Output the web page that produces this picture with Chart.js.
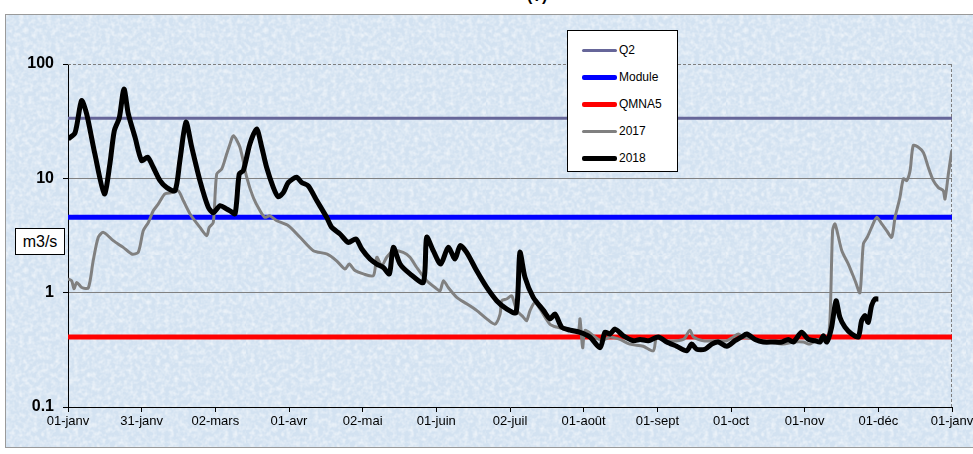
<!DOCTYPE html>
<html>
<head>
<meta charset="utf-8">
<script src="https://cdn.jsdelivr.net/npm/chart.js@4/dist/chart.umd.min.js"></script>
<style>
  html,body{margin:0;padding:0;background:#fff;}
  body{width:973px;height:454px;position:relative;overflow:hidden;font-family:"Liberation Sans",Arial,sans-serif;}
  #frame{position:absolute;left:5px;top:14px;width:975px;height:432px;border:1px solid #9a9a9a;
    background-color:#d3e2f1;
    background-image:url("data:image/svg+xml;utf8,<svg xmlns='http://www.w3.org/2000/svg' width='240' height='240'><filter id='n'><feTurbulence type='fractalNoise' baseFrequency='0.22' numOctaves='2' seed='4'/><feColorMatrix values='0 0 0 0 1  0 0 0 0 1  0 0 0 0 1  1.2 0 0 0 -0.45'/></filter><rect width='100%' height='100%' filter='url(%23n)'/></svg>");}
  #title{position:absolute;left:527px;top:-13px;font-weight:bold;font-size:16px;color:#000;}
  canvas{position:absolute;left:0;top:0;}
  #unit{position:absolute;left:15px;top:228px;width:48px;height:25px;background:#fff;border:1px solid #000;
    font-size:16px;line-height:25px;text-align:center;color:#000;}
  #legend{position:absolute;left:567px;top:30px;width:109px;height:140px;background:#fff;border:1px solid #000;}
  .row{position:absolute;left:0;height:14px;font-size:12px;color:#000;}
  .row span.l{position:absolute;left:14px;width:35px;top:50%;border-radius:2px;}
  .row span.t{position:absolute;left:51px;top:0;line-height:14px;white-space:nowrap;}
</style>
</head>
<body>
<div id="frame"></div>
<div id="title">(?)</div>
<canvas id="c" width="973" height="454"></canvas>
<div id="unit">m3/s</div>
<div id="legend"></div>
<script>
// ---- data ----
const tickLabels = ["01-janv","31-janv","02-mars","01-avr","02-mai","01-juin","02-juil","01-août","01-sept","01-oct","01-nov","01-déc","01-janv"];
const yTicks = [0.1, 1, 10, 100];

const seriesNames = ["Q2","Module","QMNA5","2017","2018"];
const q2Value = 33.5;
const moduleValue = 4.56;
const qmna5Value = 0.41;

const days2017 = [0,1.5,2.5,3.6,5.7,8.4,10.4,12.5,14.6,18.7,22.8,26.3,29,31.1,33.2,35.2,37.3,40,42.8,45.5,47.6,50.4,54.5,57.3,58.3,60,61.4,63.5,65.5,66.9,68.3,71,73.8,76.5,79.3,81.3,83.4,86.2,91,95.8,101.3,106.8,110.9,114.4,116.1,118.5,121.9,126.1,127.5,129.5,131.6,134.3,138.4,141.2,144,148.1,151.5,153.6,155,157,160.5,164.6,168.7,172.9,176.3,178.4,179.1,181.1,183.2,185.3,188,189.4,190.8,192.8,194.9,199,201.8,207.3,210.7,211.4,212.5,213.5,216.9,220.4,223.8,227.9,232,237.5,241.7,243.1,247.2,254.1,256.8,258.2,262.3,267.8,272,274.7,276.8,278.8,284.4,289.9,295.3,299.5,303.6,306.4,309.1,313.3,314.6,315.7,316.7,319.5,322.2,325,327,328.4,330,331.8,333.9,336,338,340.1,341.5,343.5,344.9,346.3,347.7,349,351.1,353.2,355.2,357.3,359.4,361.4,362.1,363.5,364.9];
const flow2017 = [1.32,1.27,1.08,1.23,1.11,1.1,1.9,3.05,3.37,2.85,2.49,2.18,2.25,3.49,4.12,5.2,5.97,7.3,7.5,7.8,6.4,4.88,3.72,3.15,3.72,4.12,10.9,12.1,16.3,20,23.6,18.7,10.2,6.8,5.2,4.56,4.7,4.26,3.85,3.05,2.33,2.18,1.9,1.61,1.78,1.56,1.46,1.41,2.04,1.72,2.04,2.33,2.25,2.04,1.66,1.27,1.11,1.04,1.27,1.11,0.91,0.8,0.7,0.59,0.53,0.65,0.85,0.88,0.94,0.7,0.61,0.57,0.7,0.82,0.72,0.53,0.5,0.47,0.47,0.59,0.33,0.47,0.42,0.38,0.41,0.39,0.355,0.34,0.31,0.41,0.38,0.39,0.47,0.41,0.38,0.38,0.38,0.41,0.435,0.41,0.39,0.37,0.355,0.37,0.37,0.355,0.39,0.38,0.57,3.49,3.99,2.33,1.78,1.27,1.0,2.67,3.05,3.72,4.56,3.99,3.49,3.05,4.56,6.8,9.9,9.55,11.7,19.4,18.7,16.8,12.5,9.55,8.3,7.8,6.6,10.9,17.5];

const days2018 = [0,2.9,5.6,7.7,11.1,15,17.3,19.1,21.2,23.1,24.9,27.7,30.4,32.9,35.2,38,40.8,44.2,46.2,48.7,51.1,54.5,57.9,60,62.8,65.5,66.9,69,70.7,72.4,75.1,77.9,80,82,84.8,86.8,88.9,91,94.4,96.5,99.2,102.7,106.8,108.9,112.3,115.7,118.9,121.3,124.7,127.5,130.2,132.7,134.3,137.1,141.2,146.7,148.1,150.8,153.9,157,159.8,161.9,164.6,168.7,172.9,177,181.1,185,186.6,188.7,192.1,196.3,199,201.1,203.8,207.3,211.4,215.5,219.7,221.7,223.8,225.9,229.3,233.4,236.2,239.6,243.7,247.2,251.3,255.5,257.5,259.6,263,265.8,268.5,272,275.4,278.2,280.2,283.7,287.1,291.2,294.7,297.4,299.5,302.9,305.7,308.4,310.5,311.9,313.3,315.3,317.1,318.7,320.8,323.6,326.3,327.7,329.1,330.4,331.8,333.2,334.6];
const flow2018 = [22.1,25,47.8,36.6,16.3,7.3,13.4,26,34,60.5,36.6,22.8,14.3,15.3,12.5,9.55,8.3,7.8,14.3,31,18.7,9.5,5.6,5.0,5.77,5.4,5.2,4.9,10.9,11.7,20,27,18.7,12.5,8.3,6.9,7.5,9.2,10.2,9.2,8.6,6.4,4.56,3.72,3.26,2.75,2.95,2.41,1.97,1.78,1.66,1.46,2.49,1.78,1.46,1.23,3.05,2.33,1.78,2.49,1.97,2.58,2.25,1.56,1.11,0.85,0.72,0.67,2.25,1.36,0.91,0.7,0.59,0.65,0.5,0.47,0.45,0.41,0.33,0.45,0.435,0.48,0.42,0.38,0.39,0.38,0.41,0.37,0.34,0.31,0.355,0.32,0.32,0.355,0.37,0.34,0.38,0.41,0.435,0.39,0.37,0.37,0.37,0.39,0.37,0.45,0.39,0.38,0.37,0.42,0.37,0.5,0.85,0.61,0.5,0.435,0.41,0.57,0.63,0.55,0.77,0.88,0.88];

const yearStart = 0, yearEnd = 365;

// ---- build ----
const toPts = (xs, ys) => xs.map((x, i) => ({x: x, y: ys[i]}));
const flat = v => [{x: yearStart, y: v}, {x: yearEnd, y: v}];

const styles = {
  "Q2":     {color:"#666699", width:3},
  "Module": {color:"#0000ff", width:5},
  "QMNA5":  {color:"#ff0000", width:5},
  "2017":   {color:"#808080", width:3},
  "2018":   {color:"#000000", width:5}
};

const datasets = [
  {label:"2018", data: toPts(days2018, flow2018), borderColor: styles["2018"].color, borderWidth: styles["2018"].width, tension:0.25},
  {label:"2017", data: toPts(days2017, flow2017), borderColor: styles["2017"].color, borderWidth: styles["2017"].width, tension:0.25},
  {label:"QMNA5", data: flat(qmna5Value), borderColor: styles["QMNA5"].color, borderWidth: styles["QMNA5"].width, tension:0},
  {label:"Module", data: flat(moduleValue), borderColor: styles["Module"].color, borderWidth: styles["Module"].width, tension:0},
  {label:"Q2", data: flat(q2Value), borderColor: styles["Q2"].color, borderWidth: styles["Q2"].width, tension:0}
];
datasets.forEach(d => { d.pointRadius = 0; d.fill = false; d.borderJoinStyle = 'round'; d.borderCapStyle = 'butt'; });

const tickDays = tickLabels.map((_, i) => i * (yearEnd - yearStart) / (tickLabels.length - 1));

const framePlugin = {
  id: 'framePlugin',
  beforeDatasetsDraw(chart) {
    const {ctx, chartArea: {left, right, top, bottom}} = chart;
    ctx.save();
    ctx.strokeStyle = '#7f7f7f';
    ctx.lineWidth = 1;
    ctx.setLineDash([3, 2]);
    ctx.beginPath();
    ctx.moveTo(left, Math.round(top) + 0.5);
    ctx.lineTo(right, Math.round(top) + 0.5);
    ctx.moveTo(Math.round(right) - 0.5, top);
    ctx.lineTo(Math.round(right) - 0.5, bottom);
    ctx.stroke();
    ctx.restore();
  }
};

const font = "'Liberation Sans', Arial, sans-serif";

new Chart(document.getElementById('c').getContext('2d'), {
  type: 'line',
  data: { datasets },
  plugins: [framePlugin],
  options: {
    responsive: false,
    animation: false,
    layout: { padding: { top: 64, right: 21, left: 0, bottom: 0 } },
    plugins: { legend: { display: false }, tooltip: { enabled: false }, title: { display: false } },
    scales: {
      x: {
        type: 'linear', min: yearStart, max: yearEnd,
        afterBuildTicks: s => { s.ticks = tickDays.map(v => ({ value: v })); },
        afterFit: s => { s.height = 47; s.paddingLeft = 0; s.paddingRight = 0; },
        ticks: {
          autoSkip: false, maxRotation: 0, minRotation: 0, padding: 2,
          color: '#000', font: { family: font, size: 13 },
          callback: (v, i) => tickLabels[i]
        },
        grid: { drawOnChartArea: false, drawTicks: true, tickLength: 5, tickColor: '#000', color: '#000' },
        border: { display: true, color: '#000', width: 1 }
      },
      y: {
        type: 'logarithmic', min: yTicks[0], max: yTicks[yTicks.length - 1],
        afterBuildTicks: s => { s.ticks = yTicks.map(v => ({ value: v })); },
        afterFit: s => { s.width = 68; s.paddingTop = 0; s.paddingBottom = 0; },
        ticks: {
          padding: 9, color: '#000', font: { family: font, size: 16, weight: 'bold' },
          callback: v => String(v)
        },
        grid: {
          drawTicks: true, tickLength: 5, tickColor: '#000',
          color: c => (c.tick && (c.tick.value === yTicks[0] || c.tick.value === yTicks[yTicks.length - 1])) ? 'rgba(0,0,0,0)' : '#808080',
          lineWidth: 1
        },
        border: { display: true, color: '#000', width: 1 }
      }
    }
  }
});

// ---- legend (HTML) ----
const legend = document.getElementById('legend');
seriesNames.forEach((name, i) => {
  const row = document.createElement('div');
  row.className = 'row';
  row.style.top = (12 + i * 27) + 'px';
  row.style.width = '109px';
  const l = document.createElement('span');
  l.className = 'l';
  l.style.height = styles[name].width + 'px';
  l.style.marginTop = (-styles[name].width / 2) + 'px';
  l.style.background = styles[name].color;
  const t = document.createElement('span');
  t.className = 't';
  t.textContent = name;
  row.appendChild(l); row.appendChild(t);
  legend.appendChild(row);
});
</script>
</body>
</html>
